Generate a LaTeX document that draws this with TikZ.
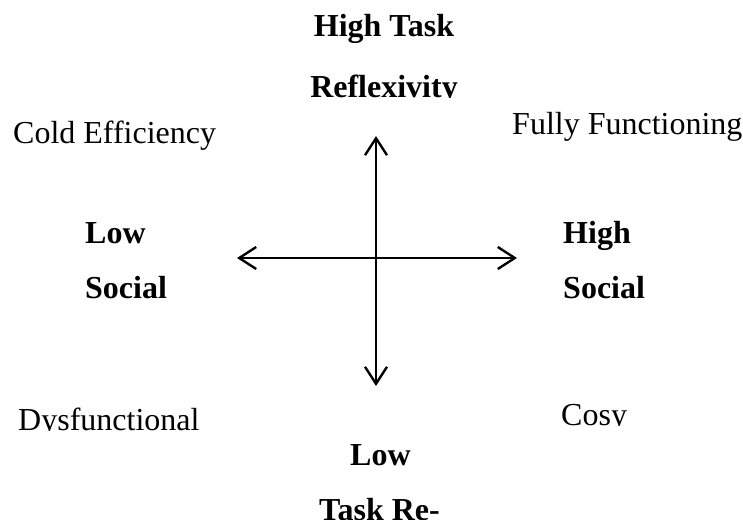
\documentclass[tikz,border=0pt]{standalone}
\usepackage{fontspec}
\setmainfont{Liberation Serif}
\usetikzlibrary{arrows.meta}
\begin{document}
\begin{tikzpicture}[x=1pt,y=-1pt,
  lbl/.style={inner sep=0pt,font=\fontsize{32}{38}\selectfont},
  blbl/.style={lbl,font=\fontsize{32}{38}\selectfont\bfseries},
  axis/.style={line width=2.4pt,{Straight Barb[length=17pt,width=22pt]}-{Straight Barb[length=17pt,width=22pt]}}]
\useasboundingbox (0,0) rectangle (743,519);
% axes
\coordinate (L) at (237,258);
\coordinate (R) at (517,258);
\coordinate (T) at (376,136);
\coordinate (B) at (376,386);
\draw[axis] (L) -- (R);
\draw[axis] (T) -- (B);
% top labels
\node[blbl,anchor=base] (ht1) at (384,37) {High Task};
\begin{scope}
  \clip (0,0) rectangle (743,97);
  \node[blbl,anchor=base] (ht2) at (384,97) {Reflexivity};
\end{scope}
% quadrant labels
\node[lbl,anchor=base west] (ce) at (13,143) {Cold Efficiency};
\node[lbl,anchor=base west] (ff) at (512,134) {Fully Functioning};
\begin{scope}
  \clip (0,0) rectangle (743,430);
  \node[lbl,anchor=base west] (df) at (18,430) {Dysfunctional};
\end{scope}
\begin{scope}
  \clip (0,0) rectangle (743,425);
  \node[lbl,anchor=base west] (cs) at (561,425) {Cosy};
\end{scope}
% side labels
\node[blbl,anchor=base west] (ls1) at (85,243) {Low};
\node[blbl,anchor=base west] (ls2) at (85,298) {Social};
\node[blbl,anchor=base west] (hs1) at (563,243) {High};
\node[blbl,anchor=base west] (hs2) at (563,298) {Social};
% bottom labels
\node[blbl,anchor=base west] (lt1) at (350,465) {Low};
\node[blbl,anchor=base west] (lt2) at (319,520) {Task Re-};
\end{tikzpicture}
\end{document}
